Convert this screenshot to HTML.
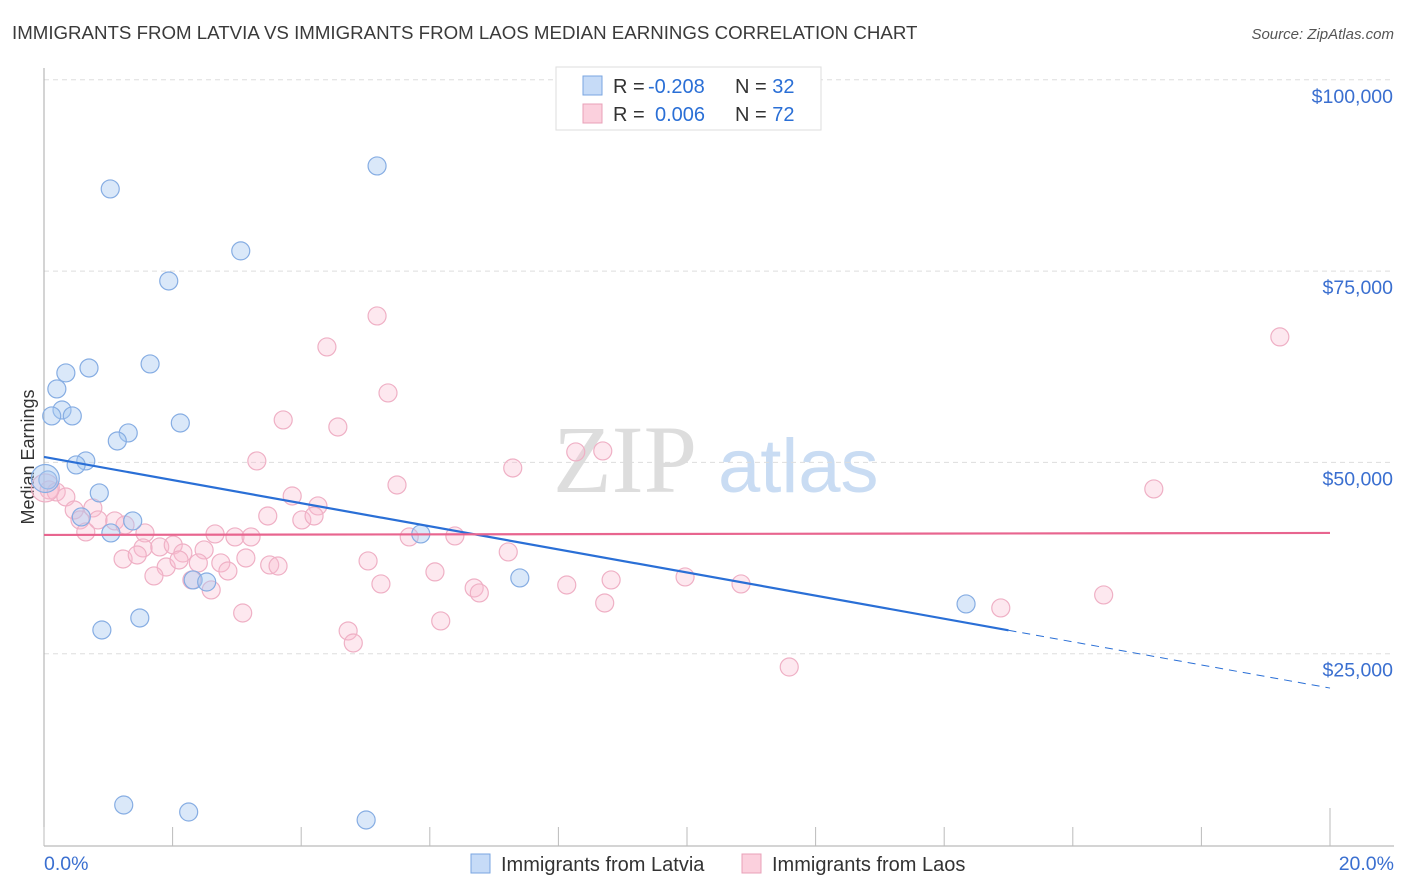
<!DOCTYPE html>
<html><head><meta charset="utf-8"><style>
body{margin:0;background:#fff;font-family:"Liberation Sans",sans-serif;}
#w{position:relative;width:1406px;height:892px;overflow:hidden}
</style></head><body><div id="w">
<svg id="s" width="1406" height="892" xmlns="http://www.w3.org/2000/svg">
<text x="12" y="39" font-size="18.7" fill="#3a3a3a">IMMIGRANTS FROM LATVIA VS IMMIGRANTS FROM LAOS MEDIAN EARNINGS CORRELATION CHART</text>
<text x="1394" y="39" font-size="15" fill="#555" font-style="italic" text-anchor="end">Source: ZipAtlas.com</text>
<text x="553" y="492" font-size="96" fill="#ddd" font-family="Liberation Serif,serif">ZIP</text>
<text x="718" y="492" font-size="76" fill="#c9dcf3">atlas</text>
<text transform="translate(34,457) rotate(-90)" font-size="18" fill="#333" text-anchor="middle">Median Earnings</text>
<g id="grid"></g><g id="pts"></g><g id="trend"></g>
<g>
<rect x="556" y="67" width="265" height="63" fill="#fff" stroke="#ddd"/>
<rect x="583" y="76" width="19" height="19" fill="#c6dbf7" stroke="#7aa6e0"/>
<rect x="583" y="104" width="19" height="19" fill="#fbd0dd" stroke="#e8a0b8"/>
<text x="613" y="93" font-size="20" fill="#333">R = <tspan fill="#2a6fd6" x="648">-0.208</tspan><tspan x="735">N = </tspan><tspan fill="#2a6fd6">32</tspan></text>
<text x="613" y="121" font-size="20" fill="#333">R = <tspan fill="#2a6fd6" x="655">0.006</tspan><tspan x="735">N = </tspan><tspan fill="#2a6fd6">72</tspan></text>
</g>
<g>
<rect x="471" y="854" width="19" height="19" fill="#c6dbf7" stroke="#7aa6e0"/>
<text x="501" y="871" font-size="20" fill="#333">Immigrants from Latvia</text>
<rect x="742" y="854" width="19" height="19" fill="#fbd0dd" stroke="#e8a0b8"/>
<text x="772" y="871" font-size="20" fill="#333">Immigrants from Laos</text>
</g>
</svg></div>
<script>
const yTicks=[25000,50000,75000,100000];
const yTickLabels=["$25,000","$50,000","$75,000","$100,000"];
const xTickLabels=["0.0%","20.0%"];
const latviaX=[1.03,5.18,3.06,1.94,1.65,0.70,0.34,0.20,0.28,0.12,0.44,2.12,1.31,1.14,0.65,0.50,0.86,0.06,0.58,1.38,1.04,5.86,2.32,2.53,7.40,14.34,0.90,1.49,1.24,2.25,5.01,0.02];
const latviaY=[85740,88740,77640,73710,62870,62340,61690,59600,56850,56070,56070,55150,53850,52800,50190,49670,46010,47710,42870,42350,40780,40650,34640,34370,34900,31500,28100,29670,5230,4310,3270,47900];
const laosX=[5.18,19.22,4.40,5.35,3.72,4.57,8.27,8.69,3.31,7.29,5.49,17.26,3.86,4.26,0.08,0.19,0.34,0.47,0.76,0.56,0.84,1.10,1.26,1.57,3.48,4.01,4.20,2.66,2.97,3.22,5.68,6.39,0.65,1.80,2.01,2.16,2.49,1.54,1.23,1.45,1.90,1.71,2.10,2.40,2.75,2.86,3.14,3.51,3.64,5.04,7.22,2.60,2.30,5.24,6.08,6.69,6.77,8.13,8.82,9.97,10.84,8.72,14.88,16.48,3.09,6.17,4.73,4.81,11.59,0.02];
const laosY=[69140,66400,65090,59080,55550,54630,51370,51500,50190,49270,47050,46530,45610,44310,46400,46140,45480,43780,44050,42480,42480,42350,41820,40780,43000,42480,43000,40650,40260,40260,40260,40390,40910,38950,39210,38160,38560,38820,37380,37900,36330,35160,37250,36860,36860,35810,37510,36600,36460,37120,38300,33330,34640,34120,35690,33590,32940,33980,34640,35030,34120,31630,30980,32680,30320,29280,27970,26400,23260,46660];
const latviaTrend=[50710,-1510];
const laosTrend=[40520,13];
const NS="http://www.w3.org/2000/svg";
const X=v=>44+v/20*1286, Y=v=>845-v/25000*191.3;
function mk(t,a,p){const e=document.createElementNS(NS,t);for(const k in a)e.setAttribute(k,a[k]);p.appendChild(e);return e;}
const g=document.getElementById('grid');
yTicks.forEach((t,i)=>{
 const l=mk('line',{x1:44,x2:1394,y1:Y(t),y2:Y(t),stroke:'#ddd','stroke-dasharray':'5 4'},g);
 
 
 const tx=mk('text',{x:1393,y:Y(t)+23,'font-size':19.5,fill:'#3a6fd0','text-anchor':'end'},g);
 tx.textContent=yTickLabels[i];
 
 
});
let ax=mk('line',{x1:44,x2:1394,y1:846,y2:846,stroke:'#aaa'},g);


let ay=mk('line',{x1:44,x2:44,y1:68,y2:846,stroke:'#aaa'},g);


for(let i=0;i<=10;i++){const tk=mk('line',{x1:X(i*2),x2:X(i*2),y1:i==10?808:827,y2:846,stroke:'#bbb'},g);
 
 }
[[0,'start',44],[20,'end',1394]].forEach((d,i)=>{const t=mk('text',{x:d[2],y:870,'font-size':19.5,fill:'#3a6fd0','text-anchor':d[1]},g);t.textContent=xTickLabels[i];
 
 });
const p=document.getElementById('pts');
laosX.forEach((x,i)=>{const c=mk('circle',{cx:X(x),cy:Y(laosY[i]),r:i==laosX.length-1?14:9,fill:'rgba(248,190,210,0.35)',stroke:'#efb0c5','stroke-width':1.2},p);
 
 });
latviaX.forEach((x,i)=>{const c=mk('circle',{cx:X(x),cy:Y(latviaY[i]),r:i==latviaX.length-1?14:9,fill:'rgba(168,200,240,0.42)',stroke:'#86ade3','stroke-width':1.2},p);
 
 });
const tg=document.getElementById('trend');
const lt=v=>latviaTrend[0]+latviaTrend[1]*v, pt=v=>laosTrend[0]+laosTrend[1]*v;
let l1=mk('line',{x1:X(0),y1:Y(lt(0)),x2:X(15),y2:Y(lt(15)),stroke:'#2a6fd6','stroke-width':2.2},tg);


let l2=mk('line',{x1:X(15),y1:Y(lt(15)),x2:X(20),y2:Y(lt(20)),stroke:'#2a6fd6','stroke-width':1,'stroke-dasharray':'8 6'},tg);


let l3=mk('line',{x1:X(0),y1:Y(pt(0)),x2:X(20),y2:Y(pt(20)),stroke:'#e8658f','stroke-width':2.2},tg);


</script></body></html>
